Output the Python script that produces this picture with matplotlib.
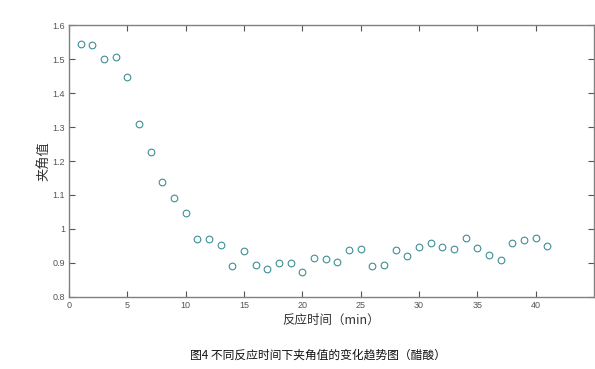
import matplotlib
matplotlib.use("Agg")
import matplotlib.pyplot as plt

plt.rcParams['font.family'] = ['Noto Sans CJK SC', 'DejaVu Sans']

time_min = list(range(1, 42))
angle = [1.546, 1.543, 1.502, 1.507, 1.449, 1.309, 1.227, 1.137, 1.091, 1.046,
         0.970, 0.969, 0.952, 0.891, 0.935, 0.893, 0.882, 0.899, 0.899, 0.874,
         0.915, 0.912, 0.903, 0.938, 0.940, 0.890, 0.894, 0.939, 0.920, 0.947,
         0.959, 0.947, 0.942, 0.974, 0.943, 0.924, 0.907, 0.959, 0.968, 0.972,
         0.950]
x_ticks = [0, 5, 10, 15, 20, 25, 30, 35, 40]
y_ticks = [0.8, 0.9, 1.0, 1.1, 1.2, 1.3, 1.4, 1.5, 1.6]
y_tick_labels = ['0.8', '0.9', '1', '1.1', '1.2', '1.3', '1.4', '1.5', '1.6']

fig = plt.figure(figsize=(5.95, 3.69), dpi=100)
ax = fig.add_axes([0.116, 0.196, 0.882, 0.735])
ax.plot(time_min, angle, linestyle='none', marker='o', markersize=4.8,
        markerfacecolor='none', markeredgecolor='#3f8f95', markeredgewidth=0.8)
ax.set_xlim(0, 45)
ax.set_ylim(0.8, 1.6)
ax.set_xticks(x_ticks)
ax.set_yticks(y_ticks)
ax.set_yticklabels(y_tick_labels)
ax.tick_params(direction='in', top=True, right=True, labelsize=6.5,
               colors='#555555', length=4, width=0.8, pad=3)
for lab in ax.get_xticklabels() + ax.get_yticklabels():
    lab.set_fontfamily('Liberation Sans')
for s in ax.spines.values():
    s.set_color('#808080')
    s.set_linewidth(1.0)
ax.set_xlabel('反应时间（min）', fontsize=9, color='#333333', labelpad=3)
ax.set_ylabel('夹角值', fontsize=9.5, color='#333333', labelpad=1)
fig.text(0.535, 0.038, '图4 不同反应时间下夹角值的变化趋势图（醋酸）', fontsize=8.5,
         ha='center', va='center', color='#111111')
fig.savefig('out.png', dpi=100)
